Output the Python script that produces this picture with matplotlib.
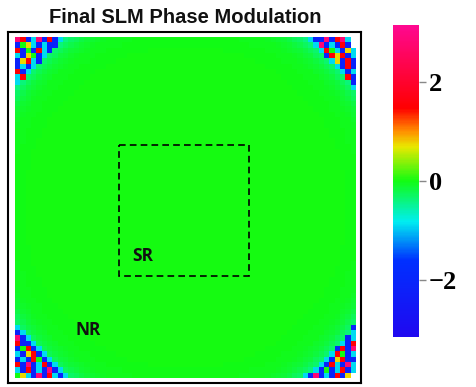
import numpy as np
import matplotlib
matplotlib.use("Agg")
import matplotlib.pyplot as plt
from matplotlib.colors import LinearSegmentedColormap
from matplotlib.patches import Rectangle

# grid size of the SLM phase map
n_cells = 64

# background phase vs normalised radius
radius_pts = [0.0, 0.95, 1.08, 1.15, 1.2, 1.25, 1.45]
phase_pts = [0.0, 0.0, -0.04, -0.15, -0.35, -0.65, -0.9]

# corner noise patches, as seen in the picture ('.' = background)
code_phase = {"b": -2.1, "c": -0.9, "g": 0.0, "y": 0.75, "r": 1.5, "m": 2.8, "w": np.nan}
patch_tl = ["mrbcmbrbc.",
            "bgycbcbb..",
            "rbgbrcb...",
            "cbygbc....",
            "byrcb.....",
            "bcbc......",
            "rbc.......",
            "cr........",
            "c.........",
            ".........."]
patch_tr = [".cbbmbrmcw",
            "..cmbcbrbw",
            "...crgcbyc",
            "....bryrbc",
            ".....cybrb",
            "......cbrb",
            ".......cbc",
            "........rb",
            ".........b",
            ".........c"]
patch_bl = ["c.........",
            "bc........",
            "mbc.......",
            "rbbc......",
            "bgrbc.....",
            "cbyrbc....",
            "bcbrgbc...",
            "rbmbcrbc..",
            "cbrbcbmbc.",
            "gycbmbrcbc"]
patch_br = [".........b",
            ".........c",
            "........bc",
            ".......cbr",
            "......brbm",
            ".....crgbc",
            "....cbyrbb",
            "...cbrcbmc",
            "..cbgbcrbc",
            "cbmbcbrbyw"]

# build the map
yy, xx = np.mgrid[0:n_cells, 0:n_cells] + 0.5
half = n_cells / 2
rr = np.hypot(xx - half, yy - half) / half
phase = np.interp(rr, radius_pts, phase_pts)

def put_patch(rows, r0, c0):
    for i, row in enumerate(rows):
        for j, ch in enumerate(row):
            if ch != ".":
                phase[r0 + i, c0 + j] = code_phase[ch]

k = len(patch_tl)
put_patch(patch_tl, 0, 0)
put_patch(patch_tr, 0, n_cells - k)
put_patch(patch_bl, n_cells - k, 0)
put_patch(patch_br, n_cells - k, n_cells - k)

# colour map: blue -> cyan -> green -> yellow -> red -> magenta
cmap_vals = [-np.pi, -1.6, -0.82, 0.0, 0.69, 1.0, 1.47, np.pi]
cmap_cols = ["#2008f0", "#0030ff", "#00eef0", "#12fc12", "#e8e800", "#ff9000", "#ff0000", "#ff0890"]
cmap = LinearSegmentedColormap.from_list(
    "slm", list(zip([(v + np.pi) / (2 * np.pi) for v in cmap_vals], cmap_cols)))
cmap.set_bad("white")

fig = plt.figure(figsize=(4.76, 3.87), dpi=100)
ax = fig.add_axes([0.0147, 0.0103, 0.7458, 0.907])
im = ax.imshow(phase, cmap=cmap, vmin=-np.pi, vmax=np.pi, interpolation="nearest",
               extent=[0, n_cells, n_cells, 0])
ax.set_xlim(-1.31, n_cells + 1.12)
ax.set_ylim(n_cells + 0.94, -0.94)
ax.set_xticks([])
ax.set_yticks([])
for s in ax.spines.values():
    s.set_linewidth(1.5)

# signal region box and labels
ax.add_patch(Rectangle((19.65, 20.26), 24.3, 24.55, fill=False, ec="black",
                       lw=1.2, ls=(0, (4, 2.5))))
ax.text(24.1, 41.1, "SR", fontsize=12.5, fontweight="bold", family="Open Sans",
        ha="center", va="center", color="#111111")
ax.text(13.85, 55.0, "NR", fontsize=12.5, fontweight="bold", family="Open Sans",
        ha="center", va="center", color="#111111")

fig.text(0.389, 0.956, "Final SLM Phase Modulation", fontsize=14.5, fontweight="bold",
         family="Liberation Sans", ha="center", va="center", color="#111111")

cax = fig.add_axes([0.8256, 0.1292, 0.0546, 0.806])
cb = fig.colorbar(im, cax=cax)
cb.outline.set_visible(False)
cb.set_ticks([-2, 0, 2])
cb.set_ticklabels(["\u22122", "0", "2"])
cax.tick_params(length=5, width=1, color="#888888", pad=2)
for lab in cax.get_yticklabels():
    lab.set_fontfamily("Liberation Serif")
    lab.set_fontweight("bold")
    lab.set_fontsize(19)

fig.savefig("out.png", dpi=100)
